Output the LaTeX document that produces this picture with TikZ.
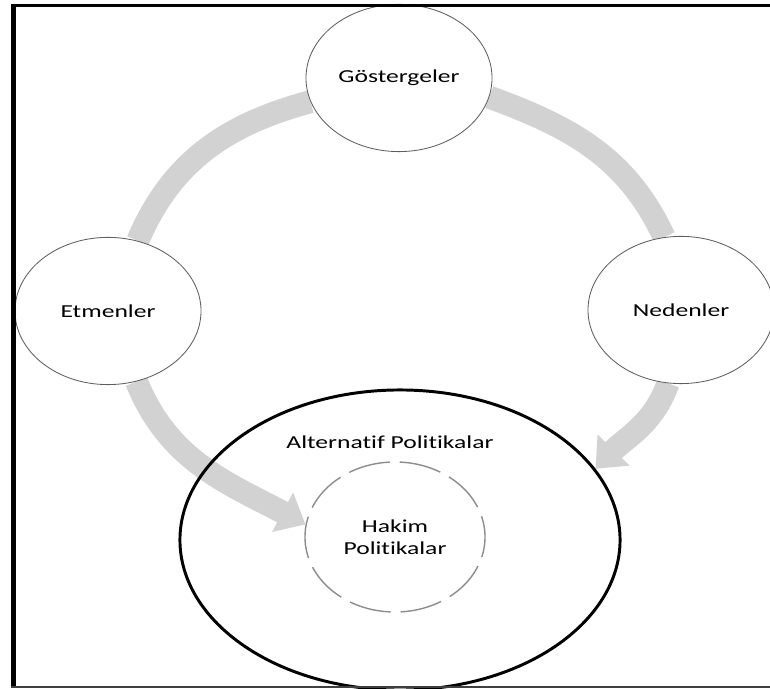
\documentclass[tikz,border=0pt]{standalone}
\usepackage{fontspec}
\newfontfamily\diafont{Carlito}[FakeStretch=1.4, Ligatures={NoCommon,NoContextual}]
\usetikzlibrary{arrows.meta, positioning, shapes.geometric, backgrounds}
\definecolor{bandgray}{RGB}{210,210,210}
\definecolor{rimgray}{RGB}{95,95,95}

\begin{document}
\begin{tikzpicture}[
    x=0.025cm, y=0.025cm,
    every node/.style={font=\diafont\fontsize{13}{15.6}\selectfont},
    bubble/.style={ellipse, draw=rimgray, line width=0.6pt, fill=white,
        minimum width=4.65cm, minimum height=3.68cm, inner sep=0pt},
    altring/.style={ellipse, draw, line width=2.1pt,
        minimum width=11cm, minimum height=7.5cm},
    hakimring/.style={ellipse, draw=black!45, line width=1pt, align=center,
        dash pattern=on 29.9pt off 7.1pt, dash phase=14.9pt,
        minimum width=4.5cm, minimum height=3.75cm},
    band/.style={line width=0.575cm, bandgray},
    bandtip/.style={band, -{Triangle[width=1.075cm, length=0.65cm]}},
]
\useasboundingbox (0,0) rectangle (770,689);

% Circles
\node[bubble] (gost) at (399,611) {Göstergeler};
\node[bubble] (etm) at (108,378) {Etmenler};
\node[bubble] (ned) at (681,379) {Nedenler};
\node[altring] (alt) at (400,149) {};
\node[hakimring] (hakim) at (395,152) {Hakim\\Politikalar};
\node[below=1.05cm of alt.north, xshift=-0.25cm] (altlabel) {Alternatif Politikalar};

% Grey bands behind the circles
\begin{pgfonlayer}{background}
\draw[band] (gost) to[out=195, in=67] (etm);
\draw[band] (gost.-12) to[out=-20, in=115] (ned.103);
\draw[bandtip] (etm) to[out=-68, in=152] (hakim.172);
\draw[bandtip] (ned.260) to[out=250, in=46] (alt.20);
\end{pgfonlayer}

% Frame
\draw[line width=3.5pt] (13.5,2) -- (13.5,685);
\draw[line width=2.8pt] (11,683.5) -- (770,683.5);
\draw[line width=1.4pt, black!75] (11,2) -- (770,2);

\end{tikzpicture}
\end{document}
